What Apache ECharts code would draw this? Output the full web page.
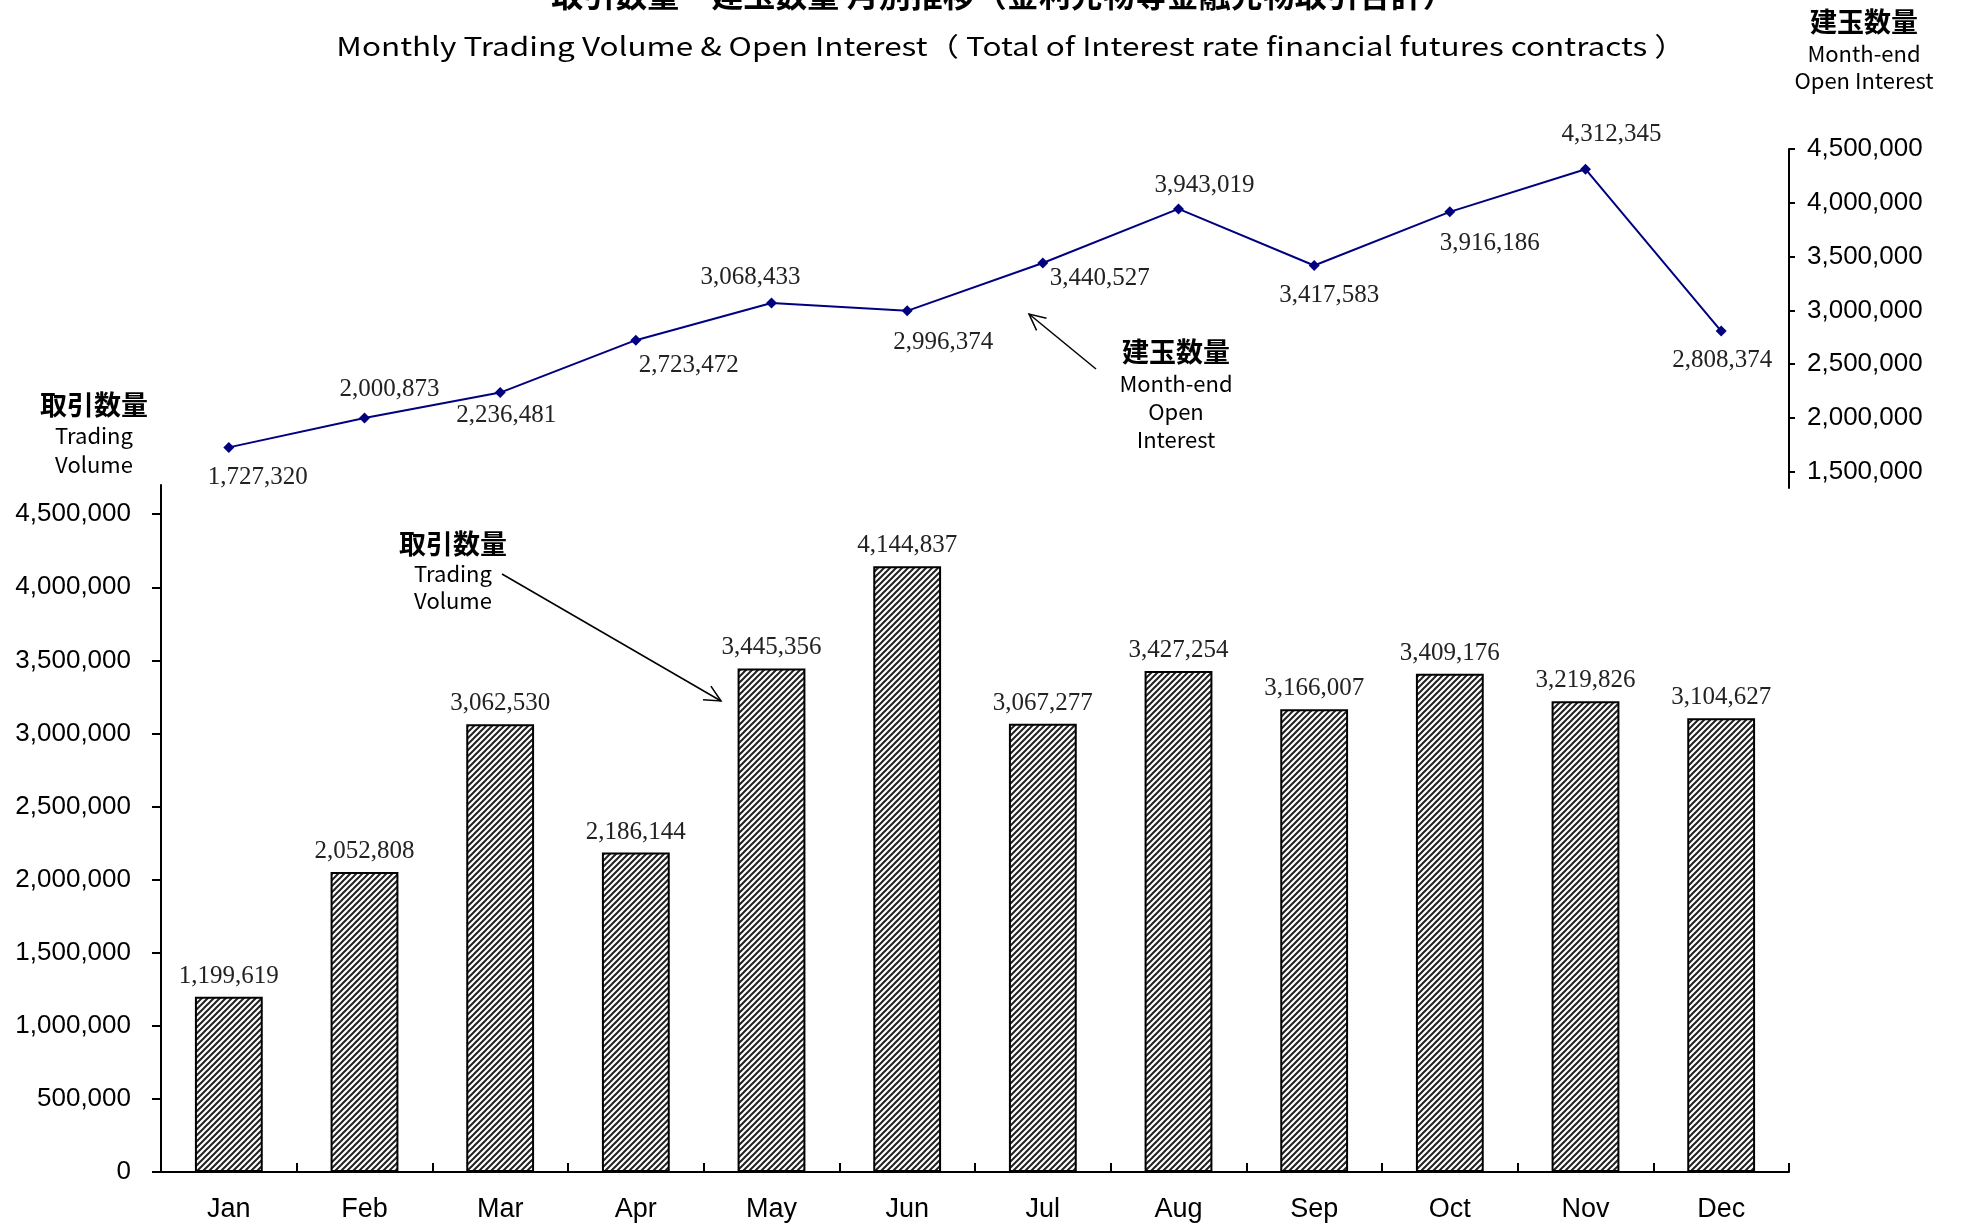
<!DOCTYPE html>
<html>
<head>
<meta charset="utf-8">
<script src="https://cdn.jsdelivr.net/npm/echarts@6/dist/echarts.min.js"></script>
<style>
  html, body { margin: 0; padding: 0; background: #fff; }
  #chart { width: 1961px; height: 1228px; }
</style>
</head>
<body>
<div id="chart"></div>
<script>
// 月
const months = ['Jan', 'Feb', 'Mar', 'Apr', 'May', 'Jun', 'Jul', 'Aug', 'Sep', 'Oct', 'Nov', 'Dec'];
// 取引数量
const volume = [1199619, 2052808, 3062530, 2186144, 3445356, 4144837, 3067277, 3427254, 3166007, 3409176, 3219826, 3104627];
// 建玉数量（月末）
const openInterest = [1727320, 2000873, 2236481, 2723472, 3068433, 2996374, 3440527, 3943019, 3417583, 3916186, 4312345, 2808374];
// 目盛
const volumeTicks = [0, 500000, 1000000, 1500000, 2000000, 2500000, 3000000, 3500000, 4000000, 4500000];
const oiTicks = [1500000, 2000000, 2500000, 3000000, 3500000, 4000000, 4500000];

// 建玉ラベルの位置ずらし (px)
const oiLabelOffset = [[29, 30], [25, -29], [6, 23], [53, 25], [-21, -26], [36, 32], [57, 15], [26, -24], [15, 30], [40, 32], [26, -35], [1, 29]];

const fmt = v => Number(v).toLocaleString('en-US');
const serif = '"Liberation Serif", serif';
const sans = '"Liberation Sans", Arial, sans-serif';
const jp = '"Noto Sans CJK JP", sans-serif';

// 斜線パターン
function hatch() {
    const c = document.createElement('canvas');
    c.width = 6; c.height = 6;
    const ctx = c.getContext('2d');
    ctx.fillStyle = '#fff';
    ctx.fillRect(0, 0, 6, 6);
    ctx.strokeStyle = '#222';
    ctx.lineWidth = 2;
    ctx.beginPath();
    ctx.moveTo(-1, 7); ctx.lineTo(7, -1);
    ctx.moveTo(-1, 1); ctx.lineTo(1, -1);
    ctx.moveTo(5, 7); ctx.lineTo(7, 5);
    ctx.stroke();
    return c;
}

// 矢印
function arrow(x1, y1, x2, y2) {
    const a = Math.atan2(y2 - y1, x2 - x1);
    const L = 18, w = 0.45;
    return [
        { type: 'line', shape: { x1, y1, x2, y2 }, style: { stroke: '#000', lineWidth: 1.5 } },
        { type: 'polyline', shape: { points: [
            [x2 - L * Math.cos(a - w), y2 - L * Math.sin(a - w)],
            [x2, y2],
            [x2 - L * Math.cos(a + w), y2 - L * Math.sin(a + w)]
        ] }, style: { stroke: '#000', lineWidth: 1.5, fill: null } }
    ];
}

function label3(x, y, lines, sizes, gap) {
    return lines.map((t, i) => ({
        type: 'text', x: x, y: y + gap[i],
        style: { text: t, font: (i === 0 ? 'bold ' : '') + sizes[i] + 'px ' + jp, fill: '#000', align: 'center', verticalAlign: 'middle' }
    }));
}

const option = {
    animation: false,
    backgroundColor: '#fff',
    grid: [
        { left: 161, right: 172, top: 485, bottom: 56 },
        { left: 161, right: 172, top: 149, height: 339 }
    ],
    xAxis: [
        {
            type: 'category', gridIndex: 0, data: months,
            axisLine: { lineStyle: { color: '#000', width: 2 } },
            axisTick: { show: true, inside: true, length: 9, lineStyle: { color: '#000', width: 2 } },
            axisLabel: { color: '#000', fontFamily: sans, fontSize: 27, margin: 24 }
        },
        {
            type: 'category', gridIndex: 1, data: months, show: false
        }
    ],
    yAxis: [
        {
            type: 'value', gridIndex: 0, min: 0, max: 4700000,
            splitLine: { show: false },
            axisLine: { show: true, lineStyle: { color: '#000', width: 2 } },
            axisTick: { show: true, length: 9, customValues: volumeTicks, lineStyle: { color: '#000', width: 2 } },
            axisLabel: { customValues: volumeTicks, formatter: fmt, color: '#000', fontFamily: sans, fontSize: 26, margin: 30 }
        },
        {
            type: 'value', gridIndex: 1, position: 'right', min: 1350000, max: 4500000,
            splitLine: { show: false },
            axisLine: { show: true, lineStyle: { color: '#000', width: 2 } },
            axisTick: { show: true, length: 6, customValues: oiTicks, lineStyle: { color: '#000', width: 2 } },
            axisLabel: { customValues: oiTicks, formatter: fmt, color: '#000', fontFamily: sans, fontSize: 26, margin: 18, align: 'left' }
        }
    ],
    series: [
        {
            name: '取引数量', type: 'bar', xAxisIndex: 0, yAxisIndex: 0,
            data: volume, barWidth: '50%',
            itemStyle: { color: { image: hatch(), repeat: 'repeat' }, borderColor: '#000', borderWidth: 2 },
            label: { show: true, position: 'top', distance: 8, formatter: p => fmt(p.value), color: '#222', fontFamily: serif, fontSize: 25 }
        },
        {
            name: '建玉数量', type: 'line', xAxisIndex: 1, yAxisIndex: 1,
            data: openInterest.map((v, i) => ({
                value: v,
                label: { offset: oiLabelOffset[i] }
            })),
            symbol: 'diamond', symbolSize: 11,
            lineStyle: { color: '#000080', width: 2 },
            itemStyle: { color: '#000080' },
            label: { show: true, position: 'inside', formatter: p => fmt(p.value), color: '#222', fontFamily: serif, fontSize: 25, align: 'center', verticalAlign: 'middle' }
        }
    ],
    graphic: [
        { type: 'text', x: 1003, y: 11, style: { text: '取引数量・建玉数量 月別推移（金利先物等金融先物取引合計）', font: 'bold 32px ' + jp, fill: '#000', align: 'center', verticalAlign: 'bottom' } },
        { type: 'text', x: 1011, y: 46, scaleX: 1.21, style: { text: 'Monthly Trading Volume & Open Interest（ Total of Interest rate financial futures contracts ）', font: '26px ' + jp, fill: '#000', align: 'center', verticalAlign: 'middle' } },
        ...label3(94, 405, ['取引数量', 'Trading', 'Volume'], [27, 22, 22], [0, 31, 60]),
        ...label3(1864, 22, ['建玉数量', 'Month-end', 'Open Interest'], [27, 22, 22], [0, 32, 59]),
        ...label3(453, 544, ['取引数量', 'Trading', 'Volume'], [27, 22, 22], [0, 30, 57]),
        ...label3(1176, 352, ['建玉数量', 'Month-end', 'Open', 'Interest'], [27, 22, 22, 22], [0, 32, 60, 88]),
        ...arrow(502, 574, 721, 701),
        ...arrow(1096, 369, 1029, 314)
    ]
};

const chart = echarts.init(document.getElementById('chart'));
chart.setOption(option);
</script>
</body>
</html>
